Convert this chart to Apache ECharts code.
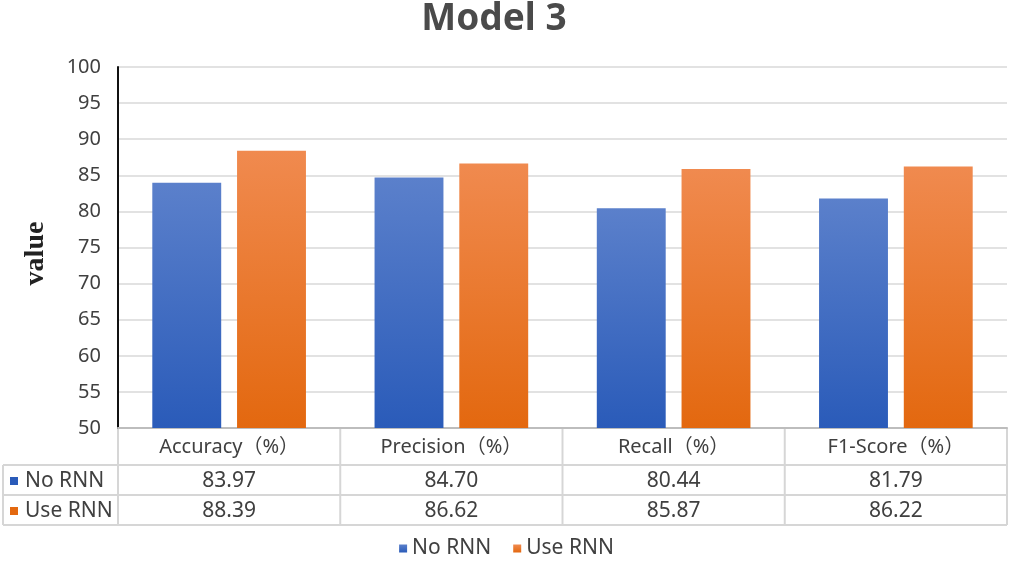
<!DOCTYPE html>
<html><head><meta charset="utf-8">
<script src="https://cdn.jsdelivr.net/npm/echarts@6/dist/echarts.min.js"></script>
<style>html,body{margin:0;padding:0;background:#fff}#c{width:1013px;height:564px}</style>
</head><body><div id="c"></div>
<script>
const titleText = 'Model 3';
const categories = ['Accuracy（%）', 'Precision（%）', 'Recall（%）', 'F1-Score（%）'];
const seriesNames = ['No RNN', 'Use RNN'];
const noRnn = [83.97, 84.70, 80.44, 81.79];
const useRnn = [88.39, 86.62, 85.87, 86.22];
const yMin = 50, yMax = 100, yStep = 5;

const FONT = '"Noto Sans", "Noto Sans CJK SC", sans-serif';
const TXT = '#404040';
const colorsTop = ['#5b80cb', '#f08a4f'];
const colorsBot = ['#2a5bb9', '#e3680f'];
const grad = i => new echarts.graphic.LinearGradient(0, 0, 0, 1, [
  {offset: 0, color: colorsTop[i]}, {offset: 1, color: colorsBot[i]}]);

const chart = echarts.init(document.getElementById('c'));
const seriesData = [noRnn, useRnn];
chart.setOption({
  animation: false,
  title: {text: titleText, left: 489, textAlign: 'center', top: -4,
    textStyle: {fontFamily: FONT, fontSize: 37, fontWeight: 'bold', color: '#4a4a4a'}},
  legend: {bottom: 0, left: 'center', icon: 'rect', itemWidth: 8, itemHeight: 8, itemGap: 22,
    data: seriesNames, textStyle: {fontFamily: FONT, fontSize: 21, color: TXT}},
  grid: {left: 118, right: 6, top: 67, bottom: 136},
  xAxis: {type: 'category', data: categories,
    axisLine: {lineStyle: {color: '#bdbdbd', width: 2}},
    axisTick: {show: false}, axisLabel: {show: false}},
  yAxis: {type: 'value', min: yMin, max: yMax, interval: yStep,
    name: 'value', nameLocation: 'middle', nameGap: 68, nameRotate: 90,
    nameTextStyle: {fontFamily: '"Liberation Serif", "DejaVu Serif", serif', fontWeight: 'bold', fontSize: 28, color: '#222', padding: [0, 0, 0, -12]},
    axisLine: {show: true, lineStyle: {color: '#111', width: 2}},
    axisTick: {show: false},
    axisLabel: {fontFamily: FONT, fontSize: 20, color: TXT, margin: 17},
    splitLine: {lineStyle: {color: '#d9d9d9', width: 1.5}}},
  series: seriesData.map((d, i) => ({
    name: seriesNames[i], type: 'bar', data: d,
    barWidth: '31%', barGap: '23%',
    itemStyle: {color: grad(i), shadowBlur: 3, shadowColor: 'rgba(0,0,0,0.3)', shadowOffsetX: 1, shadowOffsetY: 1}
  }))
});

// data table under the plot, placed from the axis scale
function buildTable() {
  const c0 = chart.convertToPixel({xAxisIndex: 0}, 0);
  const c1 = chart.convertToPixel({xAxisIndex: 0}, 1);
  const band = c1 - c0;
  const yBase = chart.convertToPixel({yAxisIndex: 0}, yMin);
  const leftEdge = 3;
  const headH = 37, rowH = 30;
  const firstX = c0 - band / 2;
  const lastX = firstX + band * categories.length;
  const lineStyle = {stroke: '#d6d6d6', lineWidth: 2};
  const els = [];
  const rowsTop = yBase + headH;
  els.push({type: 'line', shape: {x1: leftEdge, y1: rowsTop, x2: lastX, y2: rowsTop}, style: lineStyle});
  for (let r = 1; r <= seriesNames.length; r++) {
    const y = rowsTop + r * rowH;
    els.push({type: 'line', shape: {x1: leftEdge, y1: y, x2: lastX, y2: y}, style: lineStyle});
  }
  els.push({type: 'line', shape: {x1: leftEdge, y1: rowsTop, x2: leftEdge, y2: rowsTop + rowH * seriesNames.length}, style: lineStyle});
  for (let k = 0; k <= categories.length; k++) {
    const x = firstX + k * band;
    els.push({type: 'line', shape: {x1: x, y1: yBase, x2: x, y2: rowsTop + rowH * seriesNames.length}, style: lineStyle});
  }
  categories.forEach((cat, k) => {
    const cx = chart.convertToPixel({xAxisIndex: 0}, k);
    els.push({type: 'text', x: cx, y: yBase + headH / 2 + 1,
      style: {text: cat, fontFamily: FONT, fontSize: 20, fill: TXT, align: 'center', verticalAlign: 'middle'}});
  });
  seriesNames.forEach((nm, r) => {
    const cy = rowsTop + r * rowH + rowH / 2 + 1;
    els.push({type: 'rect', shape: {x: leftEdge + 7, y: cy - 4, width: 8, height: 8},
      style: {fill: colorsBot[r]}});
    els.push({type: 'text', x: leftEdge + 22, y: cy,
      style: {text: nm, fontFamily: FONT, fontSize: 21, fill: TXT, align: 'left', verticalAlign: 'middle'}});
    seriesData[r].forEach((v, k) => {
      const cx = chart.convertToPixel({xAxisIndex: 0}, k);
      els.push({type: 'text', x: cx, y: cy,
        style: {text: v.toFixed(2), fontFamily: FONT, fontSize: 21, fill: TXT, align: 'center', verticalAlign: 'middle'}});
    });
  });
  chart.setOption({graphic: {elements: els}});
}
buildTable();
</script></body></html>
